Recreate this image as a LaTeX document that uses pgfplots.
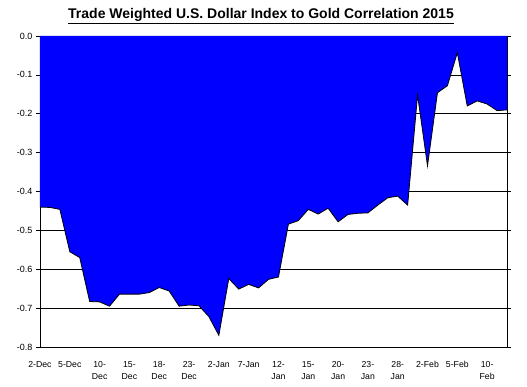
\documentclass[border=0pt]{standalone}
\usepackage{pgfplots}
\pgfplotsset{compat=1.18}
\usepackage{pgfplotstable}
\usepackage{fontspec}
\setmainfont{Liberation Sans}
\pgfplotstableread{
i v
0 -0.440
1 -0.441
2 -0.446
3 -0.555
4 -0.570
5 -0.683
6 -0.684
7 -0.695
8 -0.664
9 -0.664
10 -0.664
11 -0.660
12 -0.647
13 -0.656
14 -0.695
15 -0.692
16 -0.694
17 -0.722
18 -0.770
19 -0.624
20 -0.651
21 -0.639
22 -0.648
23 -0.626
24 -0.620
25 -0.484
26 -0.475
27 -0.446
28 -0.458
29 -0.443
30 -0.478
31 -0.459
32 -0.456
33 -0.455
34 -0.435
35 -0.416
36 -0.412
37 -0.435
38 -0.152
39 -0.334
40 -0.146
41 -0.128
42 -0.043
43 -0.180
44 -0.167
45 -0.175
46 -0.192
47 -0.190
}\datatable
\begin{document}
\begin{tikzpicture}
\begin{axis}[
  at={(0pt,0pt)}, anchor=south west,
  width=467pt, height=311pt, scale only axis,
  xmin=0, xmax=47, ymin=-0.8, ymax=0,
  axis line style={black, line width=0.8pt},
  ymajorgrids, grid style={black, line width=0.6pt},
  ytick={-0.8,-0.7,-0.6,-0.5,-0.4,-0.3,-0.2,-0.1,0},
  yticklabel style={/pgf/number format/fixed, /pgf/number format/fixed zerofill, /pgf/number format/precision=1, font=\fontsize{9}{10}\selectfont},
  /pgf/number format/assume math mode=true,
  tick align=outside,
  major tick length=4pt,
  ytick style={black, line width=0.6pt},
  xtick={0,3,...,45},
  xtick style={draw=none},
  xticklabels={2-Dec,5-Dec,10-\\Dec,15-\\Dec,18-\\Dec,23-\\Dec,2-Jan,7-Jan,12-\\Jan,15-\\Jan,20-\\Jan,23-\\Jan,28-\\Jan,2-Feb,5-Feb,10-\\Feb},
  xticklabel style={align=center, font=\fontsize{8.7}{12}\selectfont, anchor=north, yshift=-7pt},
]
\addplot[fill={rgb,255:red,0;green,0;blue,255}, draw=none] table[x=i,y=v] {\datatable} \closedcycle;
\addplot[black, line width=0.8pt] table[x=i,y=v] {\datatable};
\end{axis}
\node[font=\fontsize{14}{16}\selectfont\bfseries] at (221pt,331pt) {\underline{Trade Weighted U.S. Dollar Index to Gold Correlation 2015}};
\useasboundingbox (-40pt,-40pt) rectangle (487pt,347pt);
\end{tikzpicture}
\end{document}
